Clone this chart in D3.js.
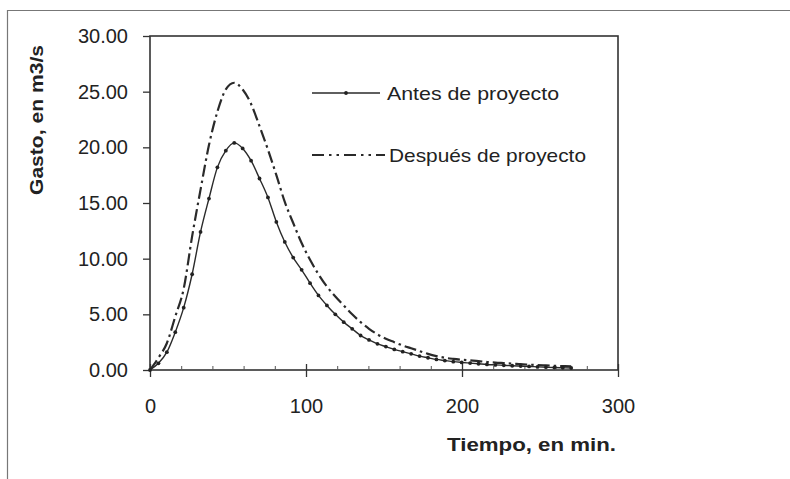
<!DOCTYPE html>
<html><head><meta charset="utf-8">
<script src="https://cdn.jsdelivr.net/npm/d3@7"></script>
<style>
body{margin:0;background:#fff;}
text{font-family:"Liberation Sans",Arial,sans-serif;fill:#222;}
</style></head>
<body><svg id="c" width="790" height="479"></svg>
<script>
const tiempo = [0,5.4,10.8,16.2,21.6,27.0,32.4,37.8,43.2,48.6,54.0,59.4,64.8,70.2,75.6,81.0,86.4,91.8,97.2,102.6,108.0,113.4,118.8,124.2,129.6,135.0,140.4,145.8,151.2,156.6,162.0,167.4,172.8,178.2,183.6,189.0,194.4,199.8,205.2,210.6,216.0,221.4,226.8,232.2,237.6,243.0,248.4,253.8,259.2,264.6,270.0];
const antes = [0,0.6,1.6,3.4,5.6,8.6,12.4,15.4,18.2,19.7,20.4,19.9,18.8,17.2,15.5,13.3,11.5,10.1,9.0,7.8,6.7,5.8,5.0,4.3,3.7,3.1,2.7,2.35,2.1,1.85,1.65,1.45,1.25,1.1,0.95,0.85,0.75,0.68,0.62,0.56,0.5,0.46,0.42,0.38,0.35,0.32,0.28,0.25,0.22,0.2,0.18];
const despues = [0,1.1,2.4,4.8,7.3,12.0,16.2,20.2,23.2,25.2,25.8,25.2,23.9,21.9,19.8,17.5,15.1,13.2,11.4,9.9,8.6,7.5,6.6,5.8,5.0,4.3,3.7,3.2,2.8,2.5,2.2,1.95,1.7,1.45,1.25,1.1,1.0,0.92,0.86,0.8,0.72,0.66,0.62,0.58,0.52,0.48,0.44,0.41,0.38,0.35,0.32];
const yTicks = [0,5,10,15,20,25,30];
const xTicks = [0,100,200,300];
const xMinor = [20,40,60,80,120,140,160,180,220,240,260,280];
const seriesNames = ["Antes de proyecto","Después de proyecto"];

const svg = d3.select("#c");
const L=150,R=618,T=36,B=370;
const x = d3.scaleLinear().domain([0,300]).range([L,R]);
const y = d3.scaleLinear().domain([0,30]).range([B,T]);

// outer frame (left and top)
svg.append("path").attr("d","M7.5,479 V10.5 H790").attr("fill","none").attr("stroke","#777").attr("stroke-width",1.2);

// plot border
svg.append("rect").attr("x",L).attr("y",T).attr("width",R-L).attr("height",B-T)
  .attr("fill","none").attr("stroke","#333").attr("stroke-width",1.6);

// y axis
const ya = svg.append("g").attr("transform",`translate(${L},0)`)
  .call(d3.axisLeft(y).tickValues(yTicks).tickFormat(d3.format(".2f")).tickSize(7).tickPadding(15));
ya.select(".domain").remove();
ya.selectAll("line").attr("stroke","#333").attr("stroke-width",1.3);
ya.selectAll("text").attr("font-size",20).attr("fill","#222").style("font-family","Liberation Sans, Arial");

// x axis major
const xa = svg.append("g").attr("transform",`translate(0,${B})`)
  .call(d3.axisBottom(x).tickValues(xTicks).tickFormat(d3.format("d")).tickSize(7));
xa.select(".domain").remove();
xa.selectAll("line").attr("y1",-6).attr("stroke","#333").attr("stroke-width",1.3);
xa.selectAll("text").attr("y",29).attr("font-size",20).attr("fill","#222").style("font-family","Liberation Sans, Arial");
// x minor
const xm = svg.append("g").attr("transform",`translate(0,${B})`)
  .call(d3.axisBottom(x).tickValues(xMinor).tickFormat("").tickSize(-4));
xm.select(".domain").remove();
xm.selectAll("line").attr("stroke","#555").attr("stroke-width",1);

// axis titles
svg.append("text").attr("x",447).attr("y",451).attr("font-size",18).attr("font-weight","bold")
  .attr("textLength",169).attr("lengthAdjust","spacingAndGlyphs").text("Tiempo, en min.");
svg.append("text").attr("transform","translate(43,120) rotate(-90)").attr("text-anchor","middle")
  .attr("font-size",18).attr("font-weight","bold").attr("textLength",150).attr("lengthAdjust","spacingAndGlyphs")
  .text("Gasto, en m3/s");

const line = d3.line().x((d,i)=>x(tiempo[i])).y(d=>y(d)).curve(d3.curveMonotoneX);

svg.append("path").datum(despues).attr("d",line).attr("fill","none").attr("stroke","#2a2a2a")
  .attr("stroke-width",2.2).attr("stroke-dasharray","12,4,2.5,4");
svg.append("path").datum(antes).attr("d",line).attr("fill","none").attr("stroke","#2a2a2a").attr("stroke-width",1.4);
svg.append("g").selectAll("circle").data(antes).join("circle")
  .attr("cx",(d,i)=>x(tiempo[i])).attr("cy",d=>y(d)).attr("r",1.9).attr("fill","#222");

// legend
const lg = svg.append("g");
lg.append("line").attr("x1",312).attr("x2",380).attr("y1",93).attr("y2",93).attr("stroke","#2a2a2a").attr("stroke-width",1.4);
lg.append("circle").attr("cx",346).attr("cy",93).attr("r",1.9).attr("fill","#222");
lg.append("text").attr("x",387).attr("y",100).attr("font-size",19).attr("textLength",172).attr("lengthAdjust","spacingAndGlyphs").text(seriesNames[0]);
lg.append("line").attr("x1",312).attr("x2",385).attr("y1",155).attr("y2",155).attr("stroke","#2a2a2a")
  .attr("stroke-width",2.2).attr("stroke-dasharray","12,5,2.5,5,2.5,5");
lg.append("text").attr("x",389).attr("y",162).attr("font-size",19).attr("textLength",197).attr("lengthAdjust","spacingAndGlyphs").text(seriesNames[1]);
</script></body></html>
